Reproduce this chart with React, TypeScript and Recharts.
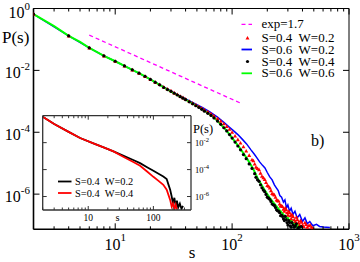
import React from 'react';
import { ComposedChart, Line, Scatter, XAxis, YAxis, Legend, CartesianGrid } from 'recharts';

const SERIF = '"Liberation Serif", "Times New Roman", serif';

// ---------- main plot data: [s, P(s)] ----------
const expLine: number[][] = [[6, 0.138], [120, 8.5e-4]];

const blueLine: number[][] = [
  [2, 0.66], [4, 0.131], [6, 0.0534], [8, 0.0295], [10, 0.0197], [14, 0.0104], [20, 0.0051],
  [26, 0.0029], [32, 0.00188], [40, 0.00119], [48, 0.00084], [56, 0.00062], [65, 0.00045],
  [75, 0.00031], [85, 0.00021], [95, 0.000145], [102, 0.000115], [112, 8.4e-5], [122, 6.0e-5],
  [133, 4.2e-5], [145, 2.7e-5], [155, 1.95e-5], [162, 1.55e-5], [172, 1.1e-5], [182, 8.5e-6],
  [191, 7.0e-6], [200, 5.0e-6], [210, 3.6e-6], [220, 2.9e-6], [230, 2.0e-6], [239, 1.6e-6],
  [248, 1.3e-6], [256, 9e-7], [265, 8e-7], [275, 5.5e-7], [283, 6.5e-7], [292, 3.6e-7],
  [300, 4.5e-7], [310, 2.8e-7], [320, 3.5e-7], [332, 2.2e-7], [345, 2.8e-7], [360, 1.7e-7],
  [379, 2.2e-7], [400, 1.3e-7], [420, 1.7e-7], [440, 1.1e-7], [462, 1.3e-7], [490, 9.5e-8],
  [527, 1.05e-7], [560, 9e-8], [601, 8.7e-8], [640, 8.5e-8], [686, 8.3e-8],
];

const redTri: number[][] = [
  [2, 0.66], [4, 0.131], [6, 0.0534], [8, 0.0295], [10, 0.0197], [12, 0.0139], [14, 0.0104],
  [16, 0.0081], [18, 0.0064], [20, 0.0051], [22, 0.0042], [24, 0.0035], [26, 0.0029],
  [28, 0.0025], [30, 0.0022], [32, 0.00188], [34, 0.00166], [36, 0.00147], [38, 0.00132],
  [40, 0.00118], [43, 0.00101], [46, 0.00088], [49, 0.00077], [52, 0.00068], [55, 0.0006],
  [58, 0.00053], [62, 0.00046], [66, 0.0004], [70, 0.00034], [75, 0.00028], [80, 0.00023],
  [85, 0.00019], [90, 0.000155], [95, 0.000125], [100, 0.0001], [106, 7.6e-5], [112, 5.8e-5],
  [118, 4.5e-5], [125, 3.4e-5], [132, 2.5e-5], [140, 1.8e-5], [148, 1.3e-5], [152, 1.2e-5],
  [156, 9.5e-6], [160, 7.5e-6], [165, 6.8e-6], [170, 6.2e-6], [175, 4.8e-6], [180, 3.8e-6],
  [185, 3.4e-6], [190, 3.0e-6], [195, 2.4e-6], [200, 1.9e-6], [205, 1.8e-6], [210, 1.6e-6],
  [215, 1.3e-6], [220, 1.05e-6], [225, 1.0e-6], [230, 9.5e-7], [235, 8e-7], [240, 6.5e-7],
  [245, 6.2e-7], [250, 6.0e-7], [255, 4.8e-7], [260, 4.2e-7], [265, 4.2e-7], [270, 4.0e-7],
  [275, 3.3e-7], [280, 2.8e-7], [285, 3.6e-7], [290, 3.2e-7], [295, 2.5e-7], [300, 2.1e-7],
  [305, 2.8e-7], [310, 2.5e-7], [315, 2.0e-7], [320, 1.6e-7], [325, 2.2e-7], [332, 1.9e-7],
  [340, 1.5e-7], [348, 1.3e-7], [355, 1.8e-7], [362, 1.5e-7], [370, 1.2e-7], [378, 1.0e-7],
  [385, 1.4e-7], [392, 1.25e-7], [400, 1.0e-7], [410, 9e-8], [420, 1.2e-7], [430, 1.05e-7],
  [440, 8.5e-8], [452, 9.5e-8], [465, 1.0e-7], [478, 8.5e-8], [490, 8e-8],
];

const greenLine: number[][] = [
  [2, 0.66], [3, 0.27], [4, 0.131], [5, 0.083], [6, 0.0534], [7, 0.039], [8, 0.0295],
  [10, 0.0197], [12, 0.0139], [14, 0.0104], [16, 0.0081], [18, 0.0064], [20, 0.0051],
  [24, 0.0034], [28, 0.0024], [32, 0.00182], [36, 0.00141], [40, 0.00114], [46, 0.00084],
  [53, 0.00062], [62, 0.00042], [70, 0.0003], [78, 0.0002], [86, 0.000135], [95, 8.6e-5],
  [105, 5.2e-5], [115, 3.3e-5], [125, 2.1e-5], [135, 1.35e-5], [145, 8.8e-6], [155, 5.5e-6],
  [167, 3.0e-6], [180, 1.9e-6], [195, 1.15e-6], [210, 7.6e-7], [225, 5.4e-7], [240, 4.0e-7],
  [256, 3.0e-7], [270, 2.4e-7], [285, 1.8e-7], [300, 1.7e-7], [312, 1.25e-7], [322, 1.5e-7],
  [335, 9.5e-8], [345, 1.2e-7], [360, 8.5e-8], [372, 1.0e-7], [380, 7.6e-8],
];

const blackDots: number[][] = [
  [2, 0.66], [4, 0.131], [6, 0.0534], [8, 0.0295], [10, 0.0197], [12, 0.0139], [14, 0.0104],
  [16, 0.0081], [18, 0.0064], [20, 0.0051], [22, 0.0041], [24, 0.0034], [26, 0.0028],
  [28, 0.0024], [30, 0.0021], [32, 0.00182], [34, 0.0016], [36, 0.00141], [38, 0.00126],
  [40, 0.00113], [43, 0.00096], [46, 0.00083], [49, 0.00072], [52, 0.00063], [55, 0.00055],
  [58, 0.00048], [62, 0.00041], [66, 0.00035], [70, 0.00029], [75, 0.00023], [80, 0.00018],
  [85, 0.00014], [90, 0.00011], [95, 8.4e-5], [100, 6.5e-5], [106, 4.8e-5], [112, 3.6e-5],
  [118, 2.7e-5], [125, 1.9e-5], [132, 1.4e-5], [140, 9.5e-6], [148, 6.8e-6], [156, 4.6e-6],
  [160, 3.5e-6], [165, 2.9e-6], [170, 2.6e-6], [175, 2.0e-6], [180, 1.6e-6], [185, 1.35e-6],
  [190, 1.2e-6], [195, 9.8e-7], [200, 8e-7], [205, 7.4e-7], [210, 6.8e-7], [215, 5.8e-7],
  [220, 4.8e-7], [225, 4.5e-7], [230, 4.3e-7], [235, 3.7e-7], [240, 3.1e-7], [245, 2.9e-7],
  [250, 2.8e-7], [255, 2.5e-7], [260, 2.0e-7], [265, 2.1e-7], [270, 1.9e-7], [275, 1.6e-7],
  [280, 1.4e-7], [285, 1.9e-7], [290, 1.5e-7], [295, 1.2e-7], [300, 1.0e-7], [305, 1.4e-7],
  [310, 1.2e-7], [315, 9.5e-8], [320, 8.5e-8], [325, 1.2e-7], [332, 1.0e-7], [340, 8.5e-8],
  [348, 9.5e-8], [355, 1.1e-7], [365, 8e-8], [375, 8.5e-8], [390, 9e-8],
];

// ---------- inset data ----------
const insetBlack: number[][] = [
  [2, 0.83], [3, 0.24], [5, 0.063], [7.5, 0.022], [12, 0.0089], [18, 0.0041], [24.4, 0.00224],
  [35, 0.00105], [50, 0.00049], [62.5, 0.0003], [80, 0.00015], [100, 8.1e-5], [120, 4.9e-5],
  [142, 3.1e-5], [160, 2.0e-5], [170, 8e-6], [181, 3.2e-6], [191, 1e-6], [200, 3e-7],
  [210, 8e-7], [220, 2e-7], [230, 5e-7], [240, 1.5e-7], [255, 3e-7], [270, 1.2e-7], [285, 2e-7],
];
const insetRed: number[][] = [
  [2, 0.83], [3, 0.24], [5, 0.063], [7.5, 0.022], [12, 0.0089], [18, 0.0041], [24.4, 0.00224],
  [35, 0.00087], [50, 0.00035], [62.5, 0.00019], [80, 7.2e-5], [100, 2.9e-5], [120, 1.45e-5],
  [142, 7.4e-6], [160, 3.2e-6], [181, 5.6e-7], [191, 1.8e-7], [200, 3e-7], [210, 1.2e-7],
  [220, 2.5e-7], [229, 1.1e-7],
];

// ---------- ticks / labels ----------
const mainXTicks = [2, 3, 4, 5, 6, 7, 8, 9, 10, 20, 30, 40, 50, 60, 70, 80, 90, 100, 200, 300, 400, 500, 600, 700, 800, 900, 1000];
const mainYTicks = [1, 1e-2, 1e-4, 1e-6];
const insetXTicks = [2, 3, 4, 5, 6, 7, 8, 9, 10, 20, 30, 40, 50, 60, 70, 80, 90, 100, 200, 300];
const insetXLabels: Record<number, string> = { 10: '10', 100: '100' };
const insetYTicks = [1e-2, 1e-4, 1e-6];

const mainLegend = [
  { label: 'exp=1.7', kind: 'dash', color: '#ff00ff' },
  { label: 'S=0.4  W=0.2', kind: 'tri', color: '#ff0000' },
  { label: 'S=0.6  W=0.2', kind: 'line', color: '#0000ff' },
  { label: 'S=0.4  W=0.4', kind: 'dot', color: '#000000' },
  { label: 'S=0.6  W=0.6', kind: 'line', color: '#00ff00' },
];
const insetLegend = [
  { label: 'S=0.4  W=0.2', color: '#000000' },
  { label: 'S=0.4  W=0.4', color: '#ff0000' },
];

const pts = (a: number[][]) => a.map(([s, p]) => ({ s, p }));
const isMajor = (v: number) => Math.abs(Math.log10(v) - Math.round(Math.log10(v))) < 1e-9;
const expo = (v: number) => String(Math.round(Math.log10(v)));

// ---------- tick renderers ----------
const BottomTick = (p: any) => {
  const v = p.payload.value;
  const major = isMajor(v);
  return (
    <g>
      <line x1={p.x} x2={p.x} y1={p.y} y2={p.y - (major ? 6 : 3)} stroke="#000" strokeWidth={1} />
      {major && (
        <text x={p.x} y={p.y + 21} textAnchor="middle" fontFamily={SERIF} fontSize={16} fill="#000">
          10<tspan dy={-9} fontSize={11}>{expo(v)}</tspan>
        </text>
      )}
    </g>
  );
};
const TopTick = (p: any) => {
  const v = p.payload.value;
  const major = isMajor(v);
  return <line x1={p.x} x2={p.x} y1={p.y} y2={p.y + (major ? 6 : 3)} stroke="#000" strokeWidth={1} />;
};
const LeftTick = (p: any) => {
  const v = p.payload.value;
  const off = v === 1 ? 9.5 : 7.5;
  return (
    <g>
      <line x1={p.x} x2={p.x + 6} y1={p.y} y2={p.y} stroke="#000" strokeWidth={1} />
      <text x={p.x - 3.5} y={p.y + off} textAnchor="end" fontFamily={SERIF} fontSize={16} fill="#000">
        10<tspan dy={-8} fontSize={11}>{expo(v)}</tspan>
      </text>
    </g>
  );
};
const RightTick = (p: any) => (
  <line x1={p.x} x2={p.x - 6} y1={p.y} y2={p.y} stroke="#000" strokeWidth={1} />
);

const InsetBottomTick = (p: any) => {
  const v = p.payload.value;
  const major = isMajor(v);
  return (
    <g>
      <line x1={p.x} x2={p.x} y1={p.y} y2={p.y - (major ? 4 : 2.5)} stroke="#333" strokeWidth={1} />
      {insetXLabels[v] && (
        <text x={p.x} y={p.y + 11} textAnchor="middle" fontFamily={SERIF} fontSize={9.5} fill="#000">
          {insetXLabels[v]}
        </text>
      )}
    </g>
  );
};
const InsetTopTick = (p: any) => {
  const v = p.payload.value;
  const major = isMajor(v);
  return <line x1={p.x} x2={p.x} y1={p.y} y2={p.y + (major ? 4 : 2.5)} stroke="#333" strokeWidth={1} />;
};
const InsetLeftTick = (p: any) => (
  <line x1={p.x} x2={p.x + 4} y1={p.y} y2={p.y} stroke="#333" strokeWidth={1} />
);
const InsetRightTick = (p: any) => {
  const v = p.payload.value;
  return (
    <g>
      <line x1={p.x} x2={p.x - 4} y1={p.y} y2={p.y} stroke="#333" strokeWidth={1} />
      <text x={p.x + 4} y={p.y + 3.5} textAnchor="start" fontFamily={SERIF} fontSize={8.5} fill="#000">
        10<tspan dy={-4} fontSize={6.5}>{expo(v)}</tspan>
      </text>
    </g>
  );
};

// ---------- marker shapes ----------
const DotShape = (p: any) => <circle cx={p.cx} cy={p.cy} r={1.6} fill="#000" />;
const TriShape = (p: any) => {
  const r = 2;
  return <path d={`M${p.cx},${p.cy - r}L${p.cx + r},${p.cy + r * 0.8}L${p.cx - r},${p.cy + r * 0.8}Z`} fill="#ff0000" />;
};

// ---------- overlays (legend + labels) ----------
const MainOverlay = () => {
  const rowsY = [24.3, 38, 49.5, 61.5, 73.3];
  return (
    <svg width={360} height={262} style={{ display: 'block' }}>
      <text x={2} y={42.5} fontFamily={SERIF} fontSize={17} fill="#000">P(s)</text>
      <text x={192} y={257.5} textAnchor="middle" fontFamily={SERIF} fontSize={17} fill="#000">s</text>
      <text x={311} y={146} fontFamily={SERIF} fontSize={16} fill="#000">b)</text>
      {mainLegend.map((it, i) => {
        const y = rowsY[i];
        return (
          <g key={i}>
            {it.kind === 'dash' && <line x1={241.5} x2={252} y1={y} y2={y} stroke={it.color} strokeWidth={1.3} strokeDasharray="4 3" />}
            {it.kind === 'line' && <line x1={241.5} x2={252} y1={y} y2={y} stroke={it.color} strokeWidth={1.8} />}
            {it.kind === 'dot' && <circle cx={247.5} cy={y} r={1.6} fill={it.color} />}
            {it.kind === 'tri' && <path d={`M247.5,${y - 2}L249.5,${y + 1.6}L245.5,${y + 1.6}Z`} fill={it.color} />}
            <text x={261.5} y={y + 4} fontFamily={SERIF} fontSize={13} fill="#000" style={{ whiteSpace: 'pre' }}>{it.label}</text>
          </g>
        );
      })}
    </svg>
  );
};

const InsetOverlay = () => {
  const rowsY = [181.5, 193];
  return (
    <svg width={360} height={262} style={{ display: 'block' }}>
      <text x={193} y={133} fontFamily={SERIF} fontSize={12.5} fill="#000">P(s)</text>
      <text x={117.5} y={220.5} textAnchor="middle" fontFamily={SERIF} fontSize={10.5} fill="#000">s</text>
      {insetLegend.map((it, i) => (
        <g key={i}>
          <line x1={58} x2={71.5} y1={rowsY[i]} y2={rowsY[i]} stroke={it.color} strokeWidth={1.8} />
          <text x={75} y={rowsY[i] + 3.5} fontFamily={SERIF} fontSize={10.4} fill="#000" style={{ whiteSpace: 'pre' }}>{it.label}</text>
        </g>
      ))}
    </svg>
  );
};

const overlayStyle: React.CSSProperties = { position: 'absolute', left: 0, top: 0, width: 360, height: 262, pointerEvents: 'none' };

export default function App() {
  return (
    <div style={{ position: 'absolute', left: 0, top: 0, width: 360, height: 262, background: '#fff' }}>
      <div style={{ position: 'absolute', left: 0, top: 0 }}>
        <ComposedChart width={360} height={262} margin={{ top: 7.5, right: 10, bottom: 31.7, left: 32.5 }}>
          <XAxis xAxisId="b" dataKey="s" type="number" scale="log" domain={[2, 1000]} allowDataOverflow
            ticks={mainXTicks} interval={0} height={1} tickSize={0} tickMargin={0} tickLine={false}
            axisLine={{ stroke: '#000', strokeWidth: 1.6 }} tick={(p: any) => <BottomTick {...p} />} />
          <XAxis xAxisId="t" orientation="top" dataKey="s" type="number" scale="log" domain={[2, 1000]} allowDataOverflow
            ticks={mainXTicks} interval={0} height={1} tickSize={0} tickMargin={0} tickLine={false}
            axisLine={{ stroke: '#000', strokeWidth: 1 }} tick={(p: any) => <TopTick {...p} />} />
          <YAxis yAxisId="l" dataKey="p" type="number" scale="log" domain={[7.3e-8, 1]} allowDataOverflow
            ticks={mainYTicks} interval={0} width={1} tickSize={0} tickMargin={0} tickLine={false}
            axisLine={{ stroke: '#000', strokeWidth: 1.6 }} tick={(p: any) => <LeftTick {...p} />} />
          <YAxis yAxisId="r" orientation="right" dataKey="p" type="number" scale="log" domain={[7.3e-8, 1]} allowDataOverflow
            ticks={mainYTicks} interval={0} width={1} tickSize={0} tickMargin={0} tickLine={false}
            axisLine={{ stroke: '#000', strokeWidth: 1 }} tick={(p: any) => <RightTick {...p} />} />
          <Line xAxisId="b" yAxisId="l" data={pts(expLine)} dataKey="p" stroke="#ff00ff" strokeWidth={1.3}
            strokeDasharray="4 3" dot={false} isAnimationActive={false} />
          <Line xAxisId="b" yAxisId="l" data={pts(blueLine)} dataKey="p" stroke="#0000ff" strokeWidth={1.5}
            dot={false} isAnimationActive={false} />
          <Scatter xAxisId="b" yAxisId="l" data={pts(redTri)} dataKey="p" shape={(p: any) => <TriShape {...p} />}
            isAnimationActive={false} />
          <Line xAxisId="b" yAxisId="l" data={pts(greenLine)} dataKey="p" stroke="#00ff00" strokeWidth={2}
            dot={false} isAnimationActive={false} />
          <Scatter xAxisId="b" yAxisId="l" data={pts(blackDots)} dataKey="p" shape={(p: any) => <DotShape {...p} />}
            isAnimationActive={false} />
          <Legend layout="horizontal" verticalAlign="middle" align="center" wrapperStyle={overlayStyle}
            content={() => <MainOverlay />} />
        </ComposedChart>
      </div>
      <div style={{ position: 'absolute', left: 0, top: 0 }}>
        <ComposedChart width={360} height={262} margin={{ top: 114.7, right: 168, bottom: 51, left: 41.7 }}>
          <CartesianGrid xAxisId="ix" yAxisId="iy" fill="#fff" stroke="none" horizontal={false} vertical={false} />
          <XAxis xAxisId="ix" dataKey="s" type="number" scale="log" domain={[2, 378]} allowDataOverflow
            ticks={insetXTicks} interval={0} height={1} tickSize={0} tickMargin={0} tickLine={false}
            axisLine={{ stroke: '#333', strokeWidth: 1.3 }} tick={(p: any) => <InsetBottomTick {...p} />} />
          <XAxis xAxisId="ixt" orientation="top" dataKey="s" type="number" scale="log" domain={[2, 378]} allowDataOverflow
            ticks={insetXTicks} interval={0} height={1} tickSize={0} tickMargin={0} tickLine={false}
            axisLine={{ stroke: '#333', strokeWidth: 1.3 }} tick={(p: any) => <InsetTopTick {...p} />} />
          <YAxis yAxisId="iy" dataKey="p" type="number" scale="log" domain={[1e-7, 1]} allowDataOverflow
            ticks={insetYTicks} interval={0} width={1} tickSize={0} tickMargin={0} tickLine={false}
            axisLine={{ stroke: '#333', strokeWidth: 1.3 }} tick={(p: any) => <InsetLeftTick {...p} />} />
          <YAxis yAxisId="iyr" orientation="right" dataKey="p" type="number" scale="log" domain={[1e-7, 1]} allowDataOverflow
            ticks={insetYTicks} interval={0} width={1} tickSize={0} tickMargin={0} tickLine={false}
            axisLine={{ stroke: '#333', strokeWidth: 1.3 }} tick={(p: any) => <InsetRightTick {...p} />} />
          <Line xAxisId="ix" yAxisId="iy" data={pts(insetBlack)} dataKey="p" stroke="#000" strokeWidth={1.8}
            dot={false} isAnimationActive={false} />
          <Line xAxisId="ix" yAxisId="iy" data={pts(insetRed)} dataKey="p" stroke="#ff0000" strokeWidth={1.8}
            dot={false} isAnimationActive={false} />
          <Legend layout="horizontal" verticalAlign="middle" align="center" wrapperStyle={overlayStyle}
            content={() => <InsetOverlay />} />
        </ComposedChart>
      </div>
    </div>
  );
}
